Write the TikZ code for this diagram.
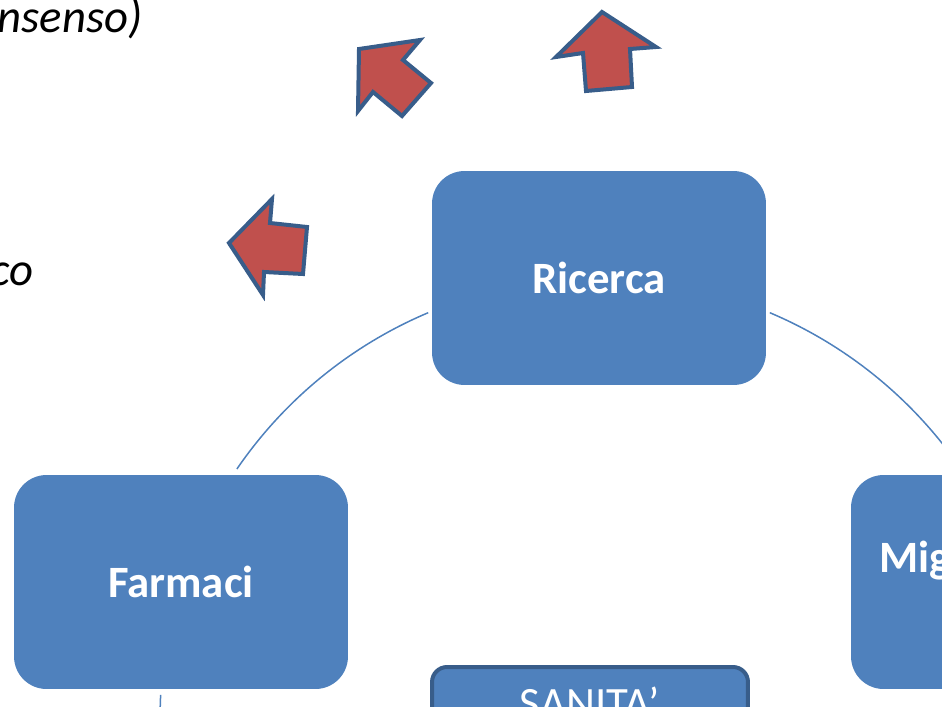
\documentclass[tikz,border=0pt]{standalone}
\usepackage{fontspec}
\setmainfont{Carlito}
\usetikzlibrary{calc}
\definecolor{boxblue}{HTML}{4F81BD}
\definecolor{edgeblue}{HTML}{385D8A}
\definecolor{arrowred}{HTML}{C0504D}

\begin{document}
\begin{tikzpicture}
  [x=0.02cm, y=0.02cm,
  cyclebox/.style={rectangle, rounded corners=0.65cm, fill=boxblue, text=white,
    minimum width=6.68cm, minimum height=4.28cm, font=\fontsize{25.5}{30}\selectfont\bfseries},
  basebox/.style={rectangle, rounded corners=0.3cm, fill=boxblue, draw=edgeblue,
    line width=0.08cm, minimum width=6.32cm, minimum height=2.4cm},
  cycleline/.style={draw=boxblue, line width=0.03cm},
  blockarrow/.style={fill=arrowred, draw=edgeblue, line width=0.08cm, line join=miter},
  note/.style={font=\fontsize{26.6}{31}\selectfont\itshape, inner sep=0pt}]
  \useasboundingbox (0,0) rectangle (942,-706);
  \clip (0,0) rectangle (942,-706);
  % nodes
  \coordinate (ctr) at (599,-717);
  \node [cyclebox] (ricerca) at (599,-278) {Ricerca};
  \node [cyclebox] (farmaci) at (181,-582) {Farmaci};
  \node [cyclebox] (miglior) at (1018,-582) {};
  \node [anchor=base west, inner sep=0pt, text=white, font=\fontsize{25.5}{30}\selectfont\bfseries]
    (migtext) at (879,-572) {Mig};
  \node [basebox] (sanita) at (590,-727) {};
  \node [anchor=base, inner sep=0pt, text=white, font=\fontsize{25.5}{30}\selectfont]
    (sanitatext) at (590,-718) {SANITA’};
  \node [note, anchor=base east] (consenso) at (143,-33) {nsenso)};
  \node [note, anchor=base east] (tico) at (34,-285) {co};
  % edges
  \draw [cycleline] ([shift={(112.9:8.78cm)}]ctr) arc [start angle=112.9, end angle=145.6, radius=8.78cm];
  \draw [cycleline] ([shift={(67.1:8.78cm)}]ctr) arc [start angle=67.1, end angle=35, radius=8.78cm];
  \draw [cycleline] ([shift={(177.1:8.78cm)}]ctr) arc [start angle=177.1, end angle=186, radius=8.78cm];
  % arrows
  \draw [blockarrow] (602,-12) -- (656,-47) -- (630,-49) -- (632,-87) -- (586,-91) -- (583,-53) -- (556,-57) -- cycle;
  \draw [blockarrow] (359,-49) -- (420,-40) -- (403,-60) -- (431,-83) -- (402,-116) -- (373,-92) -- (358,-111) -- cycle;
  \draw [blockarrow] (229,-243) -- (272,-199) -- (270,-223) -- (307,-227) -- (303,-274) -- (264,-272) -- (263,-295) -- cycle;
\end{tikzpicture}
\end{document}
